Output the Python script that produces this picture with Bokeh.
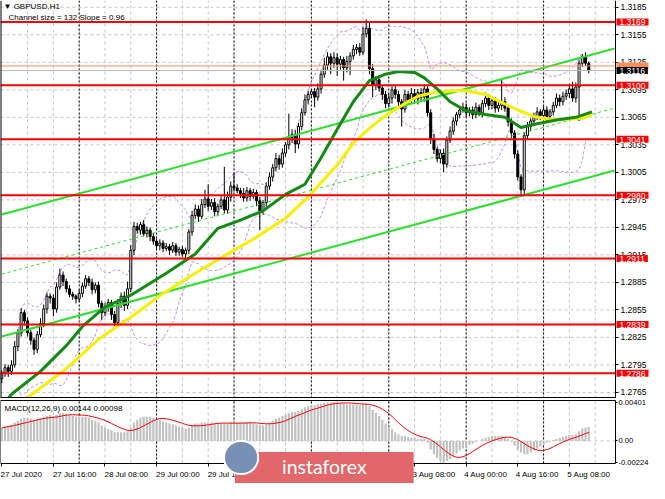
import numpy as np
import pandas as pd
from bokeh.plotting import figure
from bokeh.layouts import column
from bokeh.models import FixedTicker, Range1d, Label, LinearAxis
from bokeh.embed import file_html
from bokeh.resources import INLINE

# ---------------- data ----------------
first_open = 1.2780
closes = [
    1.2786, 1.2792, 1.2788, 1.2795, 1.2815, 1.2830, 1.2852, 1.2843, 1.2830, 1.2822,
    1.2812, 1.2828, 1.2840, 1.2856, 1.2870, 1.2868, 1.2856, 1.2880, 1.2893, 1.2886,
    1.2878, 1.2872, 1.2870, 1.2867, 1.2873, 1.2881, 1.2889, 1.2885, 1.2877, 1.2882,
    1.2862, 1.2852, 1.2858, 1.2863, 1.2850, 1.2841, 1.2862, 1.2870, 1.2860, 1.2878,
    1.2920, 1.2946, 1.2942, 1.2948, 1.2938, 1.2942, 1.2935, 1.2930, 1.2925, 1.2928,
    1.2922, 1.2924, 1.2920, 1.2925, 1.2918, 1.2921, 1.2916, 1.2920, 1.2940, 1.2958,
    1.2965, 1.2957, 1.2970, 1.2976, 1.2968, 1.2972, 1.2962, 1.2968, 1.2975, 1.2964,
    1.2978, 1.2990, 1.2988, 1.2985, 1.2982, 1.2977, 1.2985, 1.2979, 1.2983, 1.2974,
    1.2963, 1.2972, 1.2990, 1.3000, 1.3010, 1.3020, 1.3014, 1.3026, 1.3035, 1.3043,
    1.3046, 1.3036, 1.3055, 1.3070, 1.3084, 1.3090, 1.3093, 1.3087, 1.3096, 1.3112,
    1.3122, 1.3131, 1.3124, 1.3130, 1.3123, 1.3128, 1.3119, 1.3126, 1.3132, 1.3139,
    1.3141, 1.3136, 1.3156, 1.3162, 1.3118, 1.3100, 1.3106, 1.3097, 1.3090, 1.3080,
    1.3086, 1.3095, 1.3090, 1.3082, 1.3074, 1.3090, 1.3084, 1.3091, 1.3085, 1.3092,
    1.3087, 1.3096, 1.3070, 1.3042, 1.3030, 1.3020, 1.3026, 1.3014, 1.3040, 1.3050,
    1.3061, 1.3068, 1.3073, 1.3076, 1.3070, 1.3073, 1.3068, 1.3076, 1.3070, 1.3080,
    1.3086, 1.3078, 1.3083, 1.3075, 1.3078, 1.3082, 1.3075, 1.3060, 1.3048, 1.3025,
    1.3000, 1.2986, 1.3045, 1.3055, 1.3061, 1.3066, 1.3071, 1.3067, 1.3073, 1.3066,
    1.3071, 1.3078, 1.3086, 1.3082, 1.3088, 1.3091, 1.3096, 1.3086, 1.3098, 1.3124,
    1.3131, 1.3124, 1.3116,
]
# upper / lower shadow length of each candle, in pips
up_pips = [
    3, 4, 3, 5, 6, 4, 5, 3, 4, 3,   3, 4, 6, 5, 4, 3, 4, 5, 7, 4,
    3, 4, 3, 2, 4, 4, 4, 3, 4, 3,   4, 3, 5, 4, 3, 4, 5, 4, 5, 8,
    6, 5, 4, 3, 5, 4, 3, 4, 3, 4,   3, 4, 3, 4, 3, 3, 4, 3, 3, 5,
    5, 4, 6, 10, 16, 4, 5, 3, 4, 36,  6, 5, 15, 4, 3, 6, 4, 3, 4, 3,
    4, 3, 4, 5, 4, 6, 4, 5, 3, 26,  6, 5, 4, 5, 6, 4, 3, 4, 6, 5,
    8, 5, 4, 6, 5, 4, 3, 6, 4, 5,   4, 5, 8, 10, 6, 5, 4, 5, 3, 4,
    5, 4, 6, 4, 3, 5, 4, 6, 5, 4,   5, 4, 3, 4, 5, 3, 4, 5, 4, 5,
    4, 3, 4, 5, 4, 3, 4, 5, 3, 4,   6, 4, 5, 4, 5, 24, 5, 3, 4, 3,
    4, 3, 4, 5, 3, 4, 5, 3, 4, 4,   3, 4, 5, 4, 5, 4, 6, 8, 5, 4,
    3, 5, 2,
]
down_pips = [
    5, 4, 6, 4, 3, 5, 4, 5, 4, 5,   6, 4, 3, 4, 5, 6, 8, 4, 3, 5,
    4, 3, 4, 5, 3, 4, 3, 4, 5, 4,   4, 8, 4, 5, 6, 4, 4, 5, 6, 4,
    4, 5, 4, 5, 3, 4, 5, 4, 4, 5,   4, 3, 5, 3, 4, 4, 3, 5, 4, 4,
    4, 6, 3, 4, 5, 4, 5, 4, 3, 4,   4, 5, 4, 3, 5, 4, 4, 5, 3, 6,
    21, 4, 5, 4, 5, 4, 6, 4, 4, 5,  6, 10, 5, 4, 3, 5, 4, 11, 4, 5,
    4, 5, 12, 5, 13, 6, 14, 5, 15, 4,  5, 4, 3, 4, 6, 13, 5, 4, 6, 5,
    4, 6, 5, 7, 19, 4, 5, 4, 5, 6,  4, 5, 4, 6, 5, 4, 5, 9, 4, 3,
    4, 5, 4, 3, 5, 4, 5, 4, 4, 5,   4, 5, 4, 5, 4, 5, 4, 5, 6, 5,
    4, 6, 5, 4, 5, 3, 4, 5, 4, 5,   4, 4, 3, 5, 4, 4, 5, 4, 5, 37,
    4, 3, 3,
]

level_prices = [1.3169, 1.3100, 1.3041, 1.2980, 1.2911, 1.2839, 1.2786]
bid_price = 1.3116
ask_price = 1.3121

green_ma_bars = [0, 3, 12, 20, 25, 32, 40, 51, 60, 67, 74, 81, 88, 94, 99, 104, 109,
                 114, 119, 123, 128, 131, 135, 139, 144, 150, 156, 161, 166, 172, 178, 183]
green_ma_vals = [1.2750, 1.2763, 1.2788, 1.2816, 1.2837, 1.2858, 1.2871, 1.2895, 1.2916,
                 1.2944, 1.2953, 1.2963, 1.2981, 1.2992, 1.3021, 1.3052, 1.3082, 1.3105,
                 1.3112, 1.3115, 1.3114, 1.3108, 1.3096, 1.3082, 1.3072, 1.3068, 1.3065,
                 1.3054, 1.3058, 1.3062, 1.3065, 1.3071]
yellow_ma_bars = [0, 9, 20, 30, 40, 50, 60, 71, 78, 88, 95, 99, 104, 109, 114, 119, 124,
                  129, 134, 140, 144, 150, 154, 160, 165, 170, 175, 180, 183]
yellow_ma_vals = [1.2745, 1.2762, 1.2791, 1.2823, 1.2847, 1.2873, 1.2895, 1.2918, 1.2932,
                  1.2955, 1.2978, 1.2994, 1.3013, 1.3037, 1.3053, 1.3067, 1.3078, 1.3088,
                  1.3092, 1.3094, 1.3094, 1.3090, 1.3083, 1.3073, 1.3066, 1.3063, 1.3063,
                  1.3064, 1.3068]

channel_bars = [0, 190]
channel_upper = [1.2959, 1.3140]
channel_middle = [1.2894, 1.3075]
channel_lower = [1.2826, 1.3007]

macd_vals = [
    0.00135, 0.0015, 0.0016, 0.0017, 0.0019, 0.0021, 0.0023, 0.0024, 0.0024, 0.0023,
    0.0022, 0.0023, 0.0024, 0.0025, 0.0026, 0.0027, 0.0026, 0.0027, 0.0029, 0.0029,
    0.0028, 0.0027, 0.0026, 0.0025, 0.0025, 0.0025, 0.0025, 0.0024, 0.0022, 0.0021,
    0.0019, 0.0016, 0.0014, 0.0012, 0.0011, 0.0009, 0.0009, 0.0009, 0.0009, 0.0010,
    0.0014, 0.0019, 0.0022, 0.0024, 0.0025, 0.0025, 0.0025, 0.0024, 0.0023, 0.0022,
    0.0020, 0.0019, 0.0018, 0.0017, 0.0016, 0.0015, 0.0014, 0.0013, 0.0014, 0.0016,
    0.0018, 0.0018, 0.0019, 0.0019, 0.0019, 0.0019, 0.0018, 0.0018, 0.0018, 0.0018,
    0.0018, 0.0019, 0.0019, 0.0019, 0.0019, 0.0019, 0.0019, 0.0019, 0.0018, 0.0017,
    0.0016, 0.0016, 0.0017, 0.0019, 0.0021, 0.0023, 0.0024, 0.0026, 0.0027, 0.0029,
    0.0030, 0.0030, 0.0031, 0.0033, 0.0035, 0.0036, 0.0037, 0.0037, 0.0038, 0.0039,
    0.0040, 0.0040, 0.0040, 0.00401, 0.0040, 0.0039, 0.0039, 0.0038, 0.0038, 0.0038,
    0.0038, 0.0037, 0.0038, 0.0039, 0.0036, 0.0032, 0.0029, 0.0026, 0.0022, 0.0018,
    0.0015, 0.0012, 0.0009, 0.0007, 0.0005, 0.0005, 0.0004, 0.0003, 0.0003, 0.0002,
    0.0002, 0.0002, -0.0002, -0.0009, -0.0014, -0.0018, -0.0021, -0.00224, -0.0021, -0.0019,
    -0.0016, -0.0013, -0.0010, -0.0008, -0.0006, -0.0004, -0.0003, -0.0001, 0.0000, 0.0002,
    0.0003, 0.0004, 0.0005, 0.0005, 0.0005, 0.0005, 0.0004, 0.0002, -0.0001, -0.0005,
    -0.0009, -0.0012, -0.0014, -0.0014, -0.0012, -0.0010, -0.0008, -0.0006, -0.0004, -0.0002,
    -0.0001, 0.0001, 0.0002, 0.0003, 0.0004, 0.0005, 0.0006, 0.0006, 0.0007, 0.0010,
    0.0013, 0.0014, 0.00144,
]

price_ticks = [1.3185, 1.3155, 1.3125, 1.3095, 1.3065, 1.3035, 1.3005, 1.2975, 1.2945,
               1.2915, 1.2885, 1.2855, 1.2825, 1.2795, 1.2765]
macd_ticks = [0.00401, 0.0, -0.00224]
macd_tick_labels = ["0.00401", "0.00", "-0.00224"]
date_tick_bars = [0, 16, 32, 48, 64, 80, 96, 112, 128, 144, 160, 176]
date_labels = ["27 Jul 2020", "27 Jul 16:00", "28 Jul 08:00", "29 Jul 00:00", "29 Jul 16:00",
               "30 Jul 08:00", "31 Jul 00:00", "31 Jul 16:00", "3 Aug 08:00", "4 Aug 00:00",
               "4 Aug 16:00", "5 Aug 08:00"]
day_start_bars = [24, 48, 72, 96, 120, 144, 168]
grid_bars = list(range(8, 190, 8))

# ---------------- derived ----------------
n = len(closes)
bars = list(range(n))
opens = [first_open] + closes[:-1]
highs = [max(o, c) + u * 0.0001 for o, c, u in zip(opens, closes, up_pips)]
lows = [min(o, c) - d * 0.0001 for o, c, d in zip(opens, closes, down_pips)]
tops = [max(o, c) for o, c in zip(opens, closes)]
bots = [min(o, c) for o, c in zip(opens, closes)]
body_fill = ["white" if c >= o else "black" for o, c in zip(opens, closes)]

s = pd.Series(closes)
bb_mid = s.rolling(20, min_periods=6).mean()
bb_sd = s.rolling(20, min_periods=6).std(ddof=0)
bb_up = (bb_mid + 2 * bb_sd).tolist()
bb_dn = (bb_mid - 2 * bb_sd).tolist()
signal = pd.Series(macd_vals).rolling(9, min_periods=1).mean().tolist()

FONT = "Liberation Sans"
W = 649
X0, XAX, XEND = -0.4, 190.3, 200.84         # chart start, price-axis position, canvas end
P_LO, P_HI = 1.27584, 1.31924                # main panel price range
M_TOP, M_BOT = 0.0042, -0.00235              # MACD panel value range
M_LO, M_HI = -0.00443, 0.004408              # MACD canvas range (incl. date row)
GRID = "#c6c6c6"

# ---------------- main price panel ----------------
p = figure(width=W, height=398, x_range=Range1d(X0, XEND), y_range=Range1d(P_LO, P_HI),
           x_axis_location=None, y_axis_location=None, output_backend="svg",
           toolbar_location=None, min_border=0, background_fill_color="white",
           border_fill_color="white", outline_line_color=None)
p.grid.visible = False

# grid
p.segment(x0=grid_bars, y0=[P_LO] * len(grid_bars), x1=grid_bars, y1=[P_HI] * len(grid_bars),
          line_color=GRID, line_width=1, line_dash="3 3")
p.segment(x0=[X0] * len(price_ticks), y0=price_ticks, x1=[XAX] * len(price_ticks),
          y1=price_ticks, line_color=GRID, line_width=1, line_dash="3 3")
p.segment(x0=day_start_bars, y0=[P_LO] * 7, x1=day_start_bars, y1=[P_HI] * 7,
          line_color="black", line_width=1, line_dash="2 2")

# Bollinger-like dashed envelopes
p.line(bars, bb_up, line_color="#c58ee8", line_width=1, line_dash="3 2")
p.line(bars, bb_dn, line_color="#c58ee8", line_width=1, line_dash="3 2")

# candles
p.segment(x0=bars, y0=lows, x1=bars, y1=highs, line_color="black", line_width=1)
p.vbar(x=bars, width=0.62, top=tops, bottom=bots, fill_color=body_fill,
       line_color="black", line_width=1)

# regression channel
p.line(channel_bars, channel_upper, line_color="#2ee02e", line_width=2)
p.line(channel_bars, channel_lower, line_color="#2ee02e", line_width=2)
p.line(channel_bars, channel_middle, line_color="#2ee02e", line_width=1, line_dash="3 3")

# moving averages
p.line(yellow_ma_bars, yellow_ma_vals, line_color="#f5f000", line_width=3)
p.line(green_ma_bars, green_ma_vals, line_color="#138a13", line_width=3)

# horizontal levels
p.segment(x0=[X0], y0=[ask_price], x1=[XAX], y1=[ask_price], line_color="#ff8c5a", line_width=1)
p.segment(x0=[X0], y0=[bid_price], x1=[XAX], y1=[bid_price], line_color="#b8b8b8", line_width=1)
p.segment(x0=[X0] * len(level_prices), y0=level_prices, x1=[XAX] * len(level_prices),
          y1=level_prices, line_color="#ff0000", line_width=2)

# frame lines
p.segment(x0=[X0, X0], y0=[P_LO, P_LO + 0.00005], x1=[X0, XAX], y1=[P_HI, P_LO + 0.00005],
          line_color="black", line_width=2)

# price axis (drawn at the chart's right edge)
yax = LinearAxis(fixed_location=XAX, ticker=FixedTicker(ticks=price_ticks))
yax.major_label_overrides = {t: f"{t:.4f}" for t in price_ticks}
yax.major_label_text_font = FONT
yax.major_label_text_font_size = "8.5px"
yax.major_label_text_color = "black"
yax.major_tick_out = 3
yax.major_tick_in = 0
yax.major_label_standoff = 2
yax.minor_tick_line_color = None
yax.axis_line_color = "black"
p.add_layout(yax, "right")

pad = dict(left=3, right=3, top=1, bottom=0)
for lv in level_prices:
    p.add_layout(Label(x=XAX, y=lv, x_offset=1, text=f"{lv:.4f}", text_align="left",
                       text_baseline="middle", text_color="white", text_font=FONT,
                       text_font_size="8.5px", background_fill_color="#ff0000", padding=pad))
p.add_layout(Label(x=XAX, y=ask_price, x_offset=1, text=f"{ask_price:.4f}",
                   text_align="left", text_baseline="middle", text_color="#ff8c5a",
                   text_font=FONT, text_font_size="8.5px", background_fill_color="#ff8c5a",
                   padding=pad))
p.add_layout(Label(x=XAX, y=bid_price, x_offset=1, text=f"{bid_price:.4f}",
                   text_align="left", text_baseline="middle", text_color="white",
                   text_font=FONT, text_font_size="8.5px", background_fill_color="black",
                   padding=pad))

p.add_layout(Label(x=X0, y=P_HI, x_offset=3, y_offset=-1, text="\u25bc GBPUSD,H1",
                   text_align="left", text_baseline="top", text_color="black",
                   text_font=FONT, text_font_size="8px"))
p.add_layout(Label(x=X0, y=P_HI, x_offset=8, y_offset=-12,
                   text="Channel size = 132  Slope = 0.96",
                   text_align="left", text_baseline="top", text_color="black",
                   text_font=FONT, text_font_size="8px"))

# ---------------- MACD panel ----------------
p2 = figure(width=W, height=85, x_range=p.x_range, y_range=Range1d(M_LO, M_HI),
            x_axis_location=None, y_axis_location=None, output_backend="svg",
            toolbar_location=None, min_border=0, background_fill_color="white",
            border_fill_color="white", outline_line_color=None)
p2.grid.visible = False
p2.segment(x0=grid_bars, y0=[M_BOT] * len(grid_bars), x1=grid_bars, y1=[M_TOP] * len(grid_bars),
           line_color=GRID, line_width=1, line_dash="3 3")
p2.segment(x0=[X0], y0=[0.0], x1=[XAX], y1=[0.0], line_color=GRID, line_width=1,
           line_dash="3 3")
p2.segment(x0=day_start_bars, y0=[M_BOT] * 7, x1=day_start_bars, y1=[M_TOP] * 7,
           line_color="black", line_width=1, line_dash="2 2")
p2.vbar(x=bars, width=0.66, top=macd_vals, bottom=0, fill_color="#c0c0c0", line_color=None)
p2.line(bars, signal, line_color="#ff0000", line_width=1)
# panel frame
p2.segment(x0=[X0, X0, X0, XAX], y0=[M_BOT, M_TOP, M_BOT, M_BOT],
           x1=[XAX, XAX, X0, XAX], y1=[M_BOT, M_TOP, M_TOP, M_TOP],
           line_color="black", line_width=1)

may = LinearAxis(fixed_location=XAX, ticker=FixedTicker(ticks=macd_ticks))
may.major_label_overrides = dict(zip(macd_ticks, macd_tick_labels))
may.major_label_text_font = FONT
may.major_label_text_font_size = "7.6px"
may.major_label_text_color = "black"
may.major_tick_out = 2
may.major_tick_in = 0
may.major_label_standoff = 1
may.minor_tick_line_color = None
may.axis_line_color = None
p2.add_layout(may, "right")

label_centers = [round(b + len(t) * 0.55, 2) for b, t in zip(date_tick_bars, date_labels)]
dax = LinearAxis(fixed_location=M_BOT,
                 ticker=FixedTicker(ticks=label_centers, minor_ticks=date_tick_bars))
dax.major_label_overrides = dict(zip(label_centers, date_labels))
dax.major_tick_out = 0
dax.major_tick_in = 0
dax.minor_tick_out = 3
dax.minor_tick_in = 0
dax.minor_tick_line_color = "black"
dax.major_label_standoff = 4
dax.major_label_text_font = FONT
dax.major_label_text_font_size = "8px"
dax.major_label_text_color = "black"
dax.axis_line_color = None
p2.add_layout(dax, "below")

p2.add_layout(Label(x=X0, y=M_TOP, x_offset=4, y_offset=-3,
                    text="MACD(12,26,9) 0.00144 0.00098", text_align="left",
                    text_baseline="top", text_color="black", text_font=FONT,
                    text_font_size="8px"))

# watermark
p2.add_layout(Label(x=100, y=-0.00314, text="instaforex", text_align="center",
                    text_baseline="middle", text_color="white", text_font="Lato",
                    text_font_size="19.5px", background_fill_color="#e2676a",
                    padding=dict(left=47, right=47, top=3, bottom=12)))
p2.add_layout(Label(x=74.2, y=-0.00173, text=" ", text_align="center",
                    text_baseline="middle", text_font=FONT, text_font_size="8px",
                    background_fill_color="#7890b4", border_line_color="white",
                    border_line_width=2, padding=dict(left=16, right=16, top=12, bottom=12),
                    border_radius=17))

layout = column(p, p2, spacing=0)
open("out.html", "w").write(file_html(layout, INLINE))
